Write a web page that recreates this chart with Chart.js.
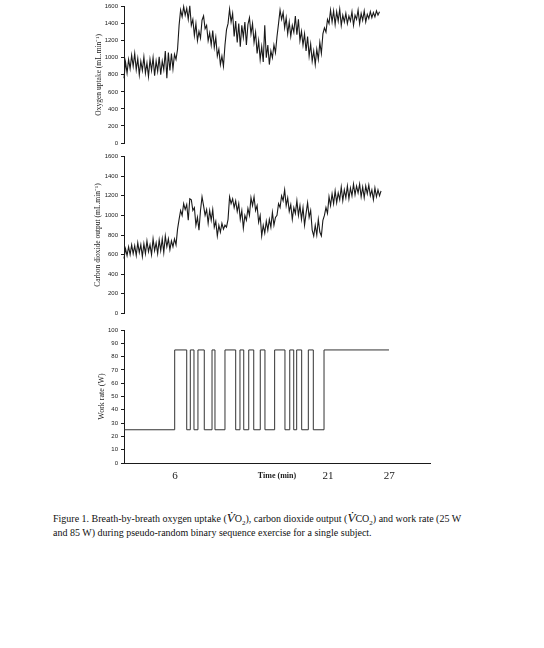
<!DOCTYPE html>
<html>
<head>
<meta charset="utf-8">
<script src="https://cdn.jsdelivr.net/npm/chart.js@4"></script>
<style>
  body { margin: 0; background: #fff; }
  .panel { position: absolute; left: 0; }
  #caption {
    position: absolute; left: 53px; top: 512px; width: 420px;
    font-family: "Liberation Serif", "Times New Roman", serif;
    font-size: 10px; line-height: 14px; color: #111;
  }
  #caption i { font-size: 13px; line-height: 0; }
  #caption sub { font-size: 7px; line-height: 0; }
</style>
</head>
<body>
<div class="panel" style="top:0px"><canvas id="vo2Chart" width="544" height="150"></canvas></div>
<div class="panel" style="top:150px"><canvas id="vco2Chart" width="544" height="170"></canvas></div>
<div class="panel" style="top:320px"><canvas id="wrChart" width="544" height="173"></canvas></div>
<div id="caption">Figure 1. Breath-by-breath oxygen uptake (<i>V̇</i>O<sub>2</sub>), carbon dioxide output (<i>V̇</i>CO<sub>2</sub>) and work rate (25 W and 85 W) during pseudo-random binary sequence exercise for a single subject.</div>
<script>
// sampling of the breath-by-breath traces (min)
const breathStart = 1.0;
const breathStep = 0.15;

// oxygen uptake, mL/min
const vo2 = [
  760, 950, 820, 980, 870, 1030, 900, 1050, 860, 990,
  800, 960, 850, 1010, 820, 940, 780, 980, 850, 1000,
  790, 960, 840, 1010, 800, 960, 860, 1080, 760, 1060,
  850, 1050, 870, 1040, 980, 1100, 1380, 1560, 1480, 1600,
  1500, 1580, 1450, 1610, 1380, 1450, 1260, 1400, 1200, 1310,
  1230, 1440, 1490, 1340, 1380, 1200, 1290, 1150, 1320, 1120,
  1240, 1020, 1100, 920, 1020, 900, 1150, 1330, 1400, 1570,
  1420, 1520, 1250, 1430, 1180, 1400, 1130, 1380, 1240, 1420,
  1150, 1390, 1470, 1280, 1400, 1180, 1300, 1050, 1200, 980,
  1130, 950, 1380, 1000, 1150, 920, 1080, 1000, 1150, 1060,
  1250, 1400, 1560, 1450, 1530, 1350, 1470, 1280, 1420, 1250,
  1380, 1300, 1490, 1270, 1450, 1200, 1310, 1150, 1280, 1080,
  1250, 1020, 1160, 960, 1080, 920, 1100, 980, 1180, 1050,
  1280, 1350, 1300, 1450, 1400, 1560, 1420, 1550, 1390, 1540,
  1430, 1570, 1380, 1500, 1420, 1520, 1400, 1490, 1430, 1540,
  1380, 1500, 1450, 1560, 1400, 1520, 1440, 1550, 1420, 1510,
  1460, 1540, 1470, 1530, 1480, 1550, 1500, 1540
];

// carbon dioxide output, mL/min
const vco2 = [
  560, 660, 590, 680, 600, 700, 610, 690, 590, 720,
  620, 700, 580, 710, 610, 740, 630, 700, 600, 760,
  640, 720, 610, 750, 640, 760, 620, 790, 680, 760,
  650, 740, 680, 760, 700, 860, 960, 1050, 1000, 1120,
  1060, 1110, 950, 1170, 1160, 1050, 1080, 900, 980, 850,
  1050, 1190, 1100, 1000, 1060, 920, 1050, 950, 1060, 880,
  940, 790, 900, 830, 920, 860, 900, 880, 960, 1190,
  1120, 1170, 1080, 1150, 1040, 1120, 960, 1050, 870, 1000,
  950, 1070, 1000, 1180, 1100, 1190, 1050, 1100, 930, 1000,
  790, 900, 820, 940, 850, 960, 880, 1030, 900, 980,
  1000, 1120, 1080, 1200, 1150, 1260, 1100, 1180, 1040, 1110,
  960, 1080, 1020, 1150, 1000, 1100, 960, 1080, 900, 1020,
  1130, 980, 1050, 850, 790, 900, 800, 960, 830, 790,
  950, 1000, 1080, 1020, 1190, 1100, 1220, 1120, 1250, 1130,
  1230, 1160, 1290, 1150, 1260, 1180, 1300, 1170, 1280, 1200,
  1320, 1210, 1300, 1230, 1320, 1190, 1290, 1180, 1300, 1220,
  1310, 1200, 1260, 1160, 1280, 1190, 1260, 1200, 1250
];

// work rate steps (min, W)
const wrTimes = [1, 5.97, 7.15, 7.5, 7.86, 8.25, 8.87, 9.63, 9.92, 10.9, 11.95, 12.37, 12.74,
  13.23, 13.72, 14.36, 14.82, 15.77, 16.78, 17.25, 17.64, 17.93, 18.42, 19.07, 19.56, 20.61, 26.98];
const wrValues = [25, 85, 25, 85, 25, 85, 25, 85, 25, 85, 25, 85, 25,
  85, 25, 85, 25, 85, 25, 85, 25, 85, 25, 85, 25, 85, 85];

const timeTicks = [6, 21, 27];
const timeMin = 1;
const timeMax = 31;

const yTitles = ['Oxygen uptake (mL.min⁻¹)', 'Carbon dioxide output (mL.min⁻¹)', 'Work rate (W)'];

const ink = '#1a1a1a';
const sans = '"Liberation Sans", Arial, sans-serif';
const serif = '"Liberation Serif", "Times New Roman", serif';

const toPoints = (vals) => vals.map((v, i) => ({ x: breathStart + i * breathStep, y: v }));

const yScale = (max, step, title, titlePad, titleSize) => ({
    min: 0,
    max: max,
    afterFit: (s) => { s.width = 124; },
    border: { display: true, color: ink, width: 1 },
    grid: { display: true, drawOnChartArea: false, drawTicks: true, tickLength: 3, color: ink },
    ticks: {
        stepSize: step, padding: 3, color: ink, font: { family: sans, size: 6 },
        callback: (v) => String(v)
    },
    title: {
        display: true, text: title, color: ink, padding: { top: titlePad, bottom: 0 },
        font: { family: serif, size: titleSize }
    }
});

const hiddenX = { type: 'linear', min: timeMin, max: timeMax, display: false };

const baseOptions = (scales, padding) => ({
    responsive: false,
    animation: false,
    layout: { padding: padding },
    plugins: { legend: { display: false }, tooltip: { enabled: false } },
    elements: { point: { radius: 0 } },
    scales: scales
});

new Chart(document.getElementById('vo2Chart').getContext('2d'), {
    type: 'line',
    data: {
        datasets: [{ data: toPoints(vo2), borderColor: ink, borderWidth: 1.1, tension: 0, clip: false }]
    },
    options: baseOptions({ x: hiddenX, y: yScale(1600, 200, yTitles[0], 95, 7.5) },
        { top: 4, bottom: 7, left: 0, right: 114 })
});

new Chart(document.getElementById('vco2Chart').getContext('2d'), {
    type: 'line',
    data: {
        datasets: [{ data: toPoints(vco2), borderColor: ink, borderWidth: 1.1, tension: 0, clip: false }]
    },
    options: baseOptions({ x: hiddenX, y: yScale(1600, 200, yTitles[1], 94, 7.5) },
        { top: 4, bottom: 6, left: 0, right: 114 })
});

new Chart(document.getElementById('wrChart').getContext('2d'), {
    type: 'line',
    data: {
        datasets: [{
            data: wrTimes.map((t, i) => ({ x: t, y: wrValues[i] })),
            borderColor: '#333', borderWidth: 1, stepped: true
        }]
    },
    options: baseOptions({
        x: {
            type: 'linear', min: timeMin, max: timeMax,
            afterBuildTicks: (s) => { s.ticks = timeTicks.map(v => ({ value: v })); },
            afterFit: (s) => { s.height = 30; },
            border: { display: true, color: ink, width: 1 },
            grid: { display: false, drawTicks: false },
            ticks: { padding: 7, color: ink, maxRotation: 0, font: { family: serif, size: 11 } },
            title: {
                display: true, text: 'Time (min)', color: ink, padding: { top: 0, bottom: 12 },
                font: { family: serif, size: 8, weight: 'bold' }
            }
        },
        y: yScale(100, 10, yTitles[2], 97, 8)
    }, { top: 10, bottom: 0, left: 0, right: 114 })
});
</script>
</body>
</html>
